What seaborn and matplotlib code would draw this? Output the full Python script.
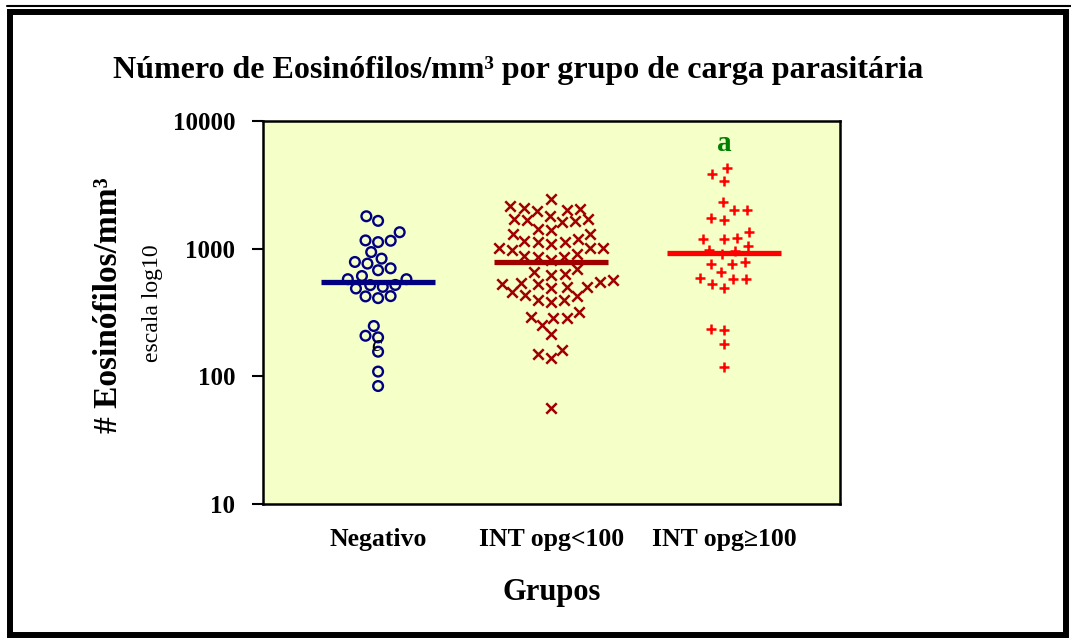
import pandas as pd
import matplotlib.pyplot as plt
import seaborn as sns
from matplotlib.patches import Rectangle
from matplotlib.lines import Line2D

# dados (eosinófilos/mm3)
grupos = ['Negativo', 'INT opg<100', 'INT opg≥100']
negativo = [1795, 1652, 1346, 1154, 1126, 1161, 941, 836, 787, 764, 678, 702,
            611, 577, 518, 502, 520, 577, 488, 423, 410, 425, 248, 208, 202,
            156, 109, 84]
opg_menor100 = [2455, 1990, 2148, 2051, 2000, 2089, 1714, 1663, 1611, 1641,
                1714, 1795, 1432, 1309, 1309, 1390, 1146, 1126, 1005, 1005,
                1005, 1094, 1126, 1197, 875, 860, 811, 970, 855, 903, 698, 657,
                622, 638, 569, 543, 527, 491, 497, 497, 527, 550, 435, 395,
                379, 395, 427, 454, 321, 285, 285, 293, 254, 215, 150, 139,
                161, 57]
opg_maior100 = [4280, 3843, 3407, 2307, 2024, 2000, 1733, 1692, 1346, 1218,
                1197, 1197, 1047, 957, 903, 975, 764, 764, 787, 657, 594, 533,
                488, 583, 583, 231, 235, 179, 118]
medias = [550, 787, 919]

cores = ['#000080', '#A00000', '#FF0000']
marcadores = ['o', 'x', '+']

df = pd.DataFrame({
    'grupo': [grupos[0]] * len(negativo) + [grupos[1]] * len(opg_menor100)
             + [grupos[2]] * len(opg_maior100),
    'eos': negativo + opg_menor100 + opg_maior100,
})

sns.set_style('white')
plt.rcParams['font.family'] = ['Liberation Serif', 'DejaVu Serif']
plt.rcParams['text.color'] = 'black'
plt.rcParams['axes.labelcolor'] = 'black'
plt.rcParams['xtick.color'] = 'black'
plt.rcParams['ytick.color'] = 'black'

fig = plt.figure(figsize=(10.71, 6.38), dpi=100)
ax = fig.add_axes([0.2456, 0.21, 0.5387, 0.6003])
ax.set_facecolor('#F5FFC8')

for i, g in enumerate(grupos):
    sub = df[df['grupo'] == g]
    if marcadores[i] == 'o':
        sns.swarmplot(data=sub, x='grupo', y='eos', order=grupos, log_scale=True,
                      marker='o', size=7, color=cores[i], facecolor='none',
                      edgecolor=cores[i], linewidth=1.7, ax=ax)
    else:
        sns.swarmplot(data=sub, x='grupo', y='eos', order=grupos, log_scale=True,
                      marker=marcadores[i], size=7.5, color=cores[i],
                      linewidth=1.8, ax=ax)

# linha da média de cada grupo
for i, m in enumerate(medias):
    ax.hlines(m, i - 0.33, i + 0.33, color=cores[i], lw=3.8, zorder=5)

ax.set_xlim(-0.665, 2.67)
ax.set_ylim(10, 10000)
ax.set_yticks([10, 100, 1000, 10000])
ax.set_yticklabels(['10', '100', '1000', '10000'])
ax.minorticks_off()
ax.tick_params(axis='y', which='major', direction='out', length=8, width=1.5,
               left=True, pad=12, labelsize=18, labelcolor='black')
ax.tick_params(axis='x', length=0, pad=17, labelsize=18.5, labelcolor='black')
for lab in ax.get_xticklabels() + ax.get_yticklabels():
    lab.set_fontweight('bold')
for s in ax.spines.values():
    s.set_color('black')
    s.set_linewidth(1.8)

ax.set_xlabel('Grupos', fontsize=22, fontweight='bold', labelpad=20,
              color='black')
ax.set_ylabel('')

# letras de significância
ax.text(2, 6700, 'a', ha='center', va='center', color='#008000', fontsize=21,
        fontweight='bold', zorder=7)
ax.text(-0.01, 175, 'c', ha='center', va='center', color='black', fontsize=17,
        fontstyle='italic', zorder=7)

fig.text(0.484, 0.89, 'Número de Eosinófilos/mm³ por grupo de carga parasitária',
         ha='center', va='center', fontsize=23, fontweight='bold')
fig.text(0.101, 0.522, '# Eosinófilos/mm³', rotation=90, ha='center',
         va='center', fontsize=24, fontweight='bold')
fig.text(0.142, 0.525, 'escala log10', rotation=90, ha='center', va='center',
         fontsize=17)

# moldura externa
fig.add_artist(Rectangle((0.0093, 0.0047), 0.986, 0.9763, transform=fig.transFigure,
                         fill=False, ec='black', lw=4.3))
fig.add_artist(Line2D([0.0065, 1.0], [0.9906, 0.9906], transform=fig.transFigure,
                      color='black', lw=1.5))

plt.savefig('out.png', dpi=100)
